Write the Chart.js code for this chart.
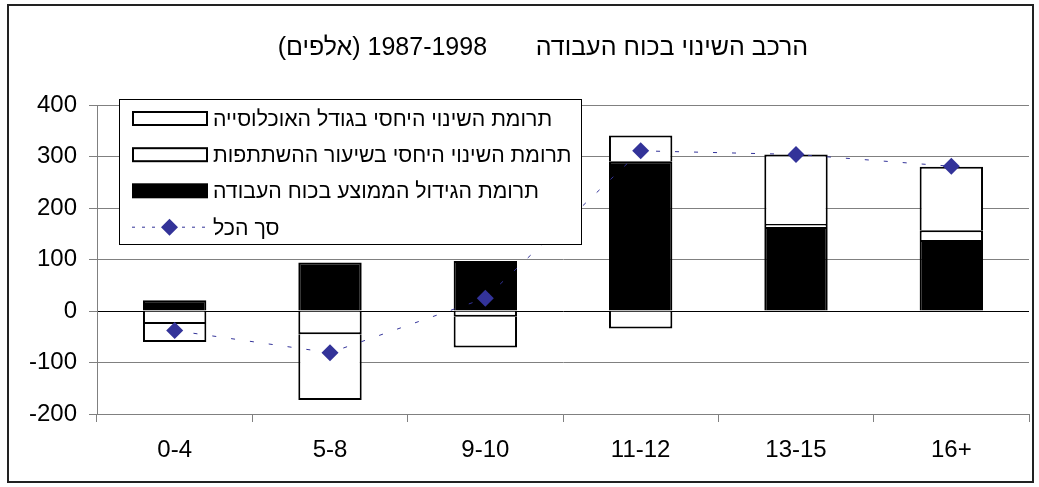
<!DOCTYPE html>
<html>
<head>
<meta charset="utf-8">
<script src="https://cdn.jsdelivr.net/npm/chart.js@4.4.0/dist/chart.umd.min.js"></script>
<style>
  html, body { margin: 0; padding: 0; background: #fff; }
  #wrap { position: relative; width: 1039px; height: 487px; }
</style>
</head>
<body>
<div id="wrap"><canvas id="myChart"></canvas></div>
<script>
// data (thousands)
const titleText = 'הרכב השינוי בכוח העבודה       1987-1998 (אלפים)';
const categories = ['0-4', '5-8', '9-10', '11-12', '13-15', '16+'];
const populationSize = [-35, -128, -60, 50, 135, 123];
const participationRate = [-25, -45, -11, -34, 6, 19];
const averageGrowth = [21, 94, 97, 291, 163, 138];
const totalChange = [-38, -81, 25, 311, 304, 281];
const yTicks = [-200, -100, 0, 100, 200, 300, 400];
const seriesNames = [
    'תרומת השינוי היחסי בגודל האוכלוסייה',
    'תרומת השינוי היחסי בשיעור ההשתתפות',
    'תרומת הגידול הממוצע בכוח העבודה',
    'סך הכל'
];

const navy = '#333399';
const fontFamily = '"Liberation Sans", Arial, sans-serif';
Chart.defaults.font.family = fontFamily;
Chart.defaults.color = '#000';

// title drawn rtl so the hebrew and the years come out in the right order
const rtlTitle = {
    id: 'rtlTitle',
    afterDraw(chart) {
        const ctx = chart.ctx;
        ctx.save();
        ctx.font = '25px ' + fontFamily;
        ctx.fillStyle = '#000';
        ctx.direction = 'rtl';
        ctx.textAlign = 'center';
        ctx.textBaseline = 'alphabetic';
        ctx.fillText(titleText, 543, 55);
        ctx.restore();
    }
};

// excel-like boxed legend sitting over the plot
const boxLegend = {
    id: 'boxLegend',
    afterDraw(chart) {
        const ctx = chart.ctx;
        const ds = chart.data.datasets;
        ctx.save();
        ctx.fillStyle = '#fff';
        ctx.fillRect(119.5, 99.5, 462, 145);
        ctx.strokeStyle = '#000';
        ctx.lineWidth = 1;
        ctx.strokeRect(119.5, 99.5, 462, 145);

        const order = [3, 2, 1, 0];
        const rowY = [118.5, 154.7, 190.8, 227.2];
        order.forEach((di, i) => {
            const d = ds[di];
            const y = rowY[i];
            if (d.type === 'line') {
                ctx.strokeStyle = navy;
                ctx.lineWidth = 1;
                ctx.setLineDash([3, 7]);
                ctx.beginPath();
                ctx.moveTo(132, y);
                ctx.lineTo(208, y);
                ctx.stroke();
                ctx.setLineDash([]);
                ctx.fillStyle = navy;
                ctx.beginPath();
                ctx.moveTo(169.5, y - 8.5);
                ctx.lineTo(178, y);
                ctx.lineTo(169.5, y + 8.5);
                ctx.lineTo(161, y);
                ctx.closePath();
                ctx.fill();
            } else {
                ctx.fillStyle = '#000';
                ctx.fillRect(132, y - 7.5, 76, 15);
                ctx.fillStyle = d.backgroundColor;
                ctx.fillRect(134, y - 5.5, 72, 11);
            }
            ctx.fillStyle = '#000';
            ctx.font = '21.3px ' + fontFamily;
            ctx.direction = 'rtl';
            ctx.textAlign = 'left';
            ctx.textBaseline = 'alphabetic';
            ctx.fillText(d.label, 213, y + 7.6);
        });
        ctx.restore();
    }
};

// outer chart frame
const frame = {
    id: 'frame',
    afterDraw(chart) {
        const ctx = chart.ctx;
        ctx.save();
        ctx.strokeStyle = '#222';
        ctx.lineWidth = 2;
        ctx.strokeRect(8, 5, 1025, 477);
        ctx.restore();
    }
};

const barBase = {
    borderColor: '#000',
    borderWidth: 2,
    categoryPercentage: 1,
    barPercentage: 0.408
};

const data = {
    labels: categories,
    datasets: [
        {
            type: 'line',
            label: seriesNames[3],
            data: totalChange,
            stack: 'total',
            borderColor: navy,
            borderWidth: 1,
            borderDash: [4, 15],
            fill: false,
            tension: 0,
            pointStyle: 'rectRot',
            pointRadius: 8.5,
            pointBackgroundColor: navy,
            pointBorderColor: navy,
            pointBorderWidth: 0
        },
        Object.assign({ type: 'bar', label: seriesNames[2], data: averageGrowth, backgroundColor: '#000' }, barBase),
        Object.assign({ type: 'bar', label: seriesNames[1], data: participationRate, backgroundColor: '#fff' }, barBase),
        Object.assign({ type: 'bar', label: seriesNames[0], data: populationSize, backgroundColor: '#fff' }, barBase)
    ]
};

const config = {
    type: 'bar',
    data: data,
    plugins: [rtlTitle, boxLegend, frame],
    options: {
        responsive: true,
        maintainAspectRatio: false,
        animation: false,
        layout: { padding: { top: 105, right: 10, left: 0, bottom: 0 } },
        plugins: {
            legend: { display: false },
            title: { display: false },
            tooltip: { enabled: false }
        },
        scales: {
            x: {
                stacked: true,
                ticks: { padding: 14, color: '#000', font: { size: 24 } },
                grid: { drawOnChartArea: false, offset: true, tickLength: 8, tickColor: '#808080' },
                border: { color: '#808080', width: 1 },
                afterFit(s) { s.height = 73; }
            },
            y: {
                stacked: true,
                min: -200,
                max: 400,
                afterBuildTicks(s) { s.ticks = yTicks.map(v => ({ value: v })); },
                ticks: { padding: 12, color: '#000', font: { size: 24 } },
                grid: {
                    color: c => (c.tick && c.tick.value === 0) ? '#000' : '#808080',
                    tickColor: '#808080',
                    tickLength: 8,
                    lineWidth: 1
                },
                border: { color: '#808080', width: 1 },
                afterFit(s) { s.width = 97; }
            }
        }
    }
};

const myChart = new Chart(document.getElementById('myChart'), config);
</script>
</body>
</html>
